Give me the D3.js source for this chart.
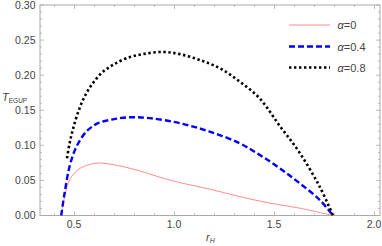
<!DOCTYPE html>
<html><head><meta charset="utf-8">
<script src="https://cdn.jsdelivr.net/npm/d3@7"></script>
<style>body{margin:0;background:#fff}svg{display:block}text{font-family:"Liberation Sans",Arial,sans-serif}</style>
</head><body>
<svg id="c" width="382" height="246"></svg>
<script>
const xMajorTicks = [0.5, 1.0, 1.5, 2.0];
const yMajorTicks = [0.00, 0.05, 0.10, 0.15, 0.20, 0.25, 0.30];
const seriesLabels = ["0", "0.4", "0.8"];
const rRed   = [0.436, 0.453, 0.478, 0.519, 0.569, 0.62, 0.695, 0.811, 0.928, 1.028, 1.178, 1.328, 1.478, 1.628, 1.795];
const tRed   = [0, 0.027, 0.0508, 0.065, 0.072, 0.0748, 0.0725, 0.065, 0.0547, 0.047, 0.0376, 0.027, 0.0177, 0.0105, 0];
const rBlue  = [0.436, 0.453, 0.478, 0.512, 0.562, 0.62, 0.695, 0.778, 0.878, 1.028, 1.178, 1.328, 1.428, 1.528, 1.628, 1.728, 1.795];
const tBlue  = [0, 0.032, 0.07, 0.098, 0.1197, 0.1316, 0.137, 0.140, 0.1387, 0.1316, 0.1196, 0.103, 0.0864, 0.0675, 0.046, 0.0224, 0];
const rBlack = [0.465, 0.478, 0.494, 0.519, 0.553, 0.594, 0.645, 0.695, 0.761, 0.844, 0.944, 1.028, 1.128, 1.228, 1.328, 1.428, 1.528, 1.628, 1.728, 1.795];
const tBlack = [0.0817, 0.103, 0.122, 0.146, 0.1695, 0.1885, 0.205, 0.2146, 0.224, 0.230, 0.2331, 0.230, 0.2217, 0.21, 0.191, 0.167, 0.128, 0.0895, 0.0413, 0];

const L = 40, R = 380, T = 5, B = 215.5;
const x = d3.scaleLinear().domain([0.33, 2.03]).range([L, R]);
const y = d3.scaleLinear().domain([0, 0.30]).range([B, T]);
const svg = d3.select("#c");
const frameCol = "#aaaaaa", labCol = "#444444";

// frame
svg.append("rect").attr("x", L).attr("y", T).attr("width", R - L).attr("height", B - T)
  .attr("fill", "none").attr("stroke", frameCol).attr("stroke-width", 1);

// ticks
const xMinor = d3.range(4, 21).map(i => i / 10).filter(v => v >= 0.33 && v <= 2.03);
const yMinor = d3.range(0, 31).map(i => i / 100);
const isMaj = (v, step) => Math.abs(v / step - Math.round(v / step)) < 1e-6;
const tk = svg.append("g").attr("stroke", frameCol).attr("stroke-width", 0.8);
xMinor.forEach(v => {
  const len = isMaj(v, 0.5) ? 4 : 2;
  const px = Math.round(x(v)) + 0.5;
  tk.append("line").attr("x1", px).attr("x2", px).attr("y1", B).attr("y2", B - len);
  tk.append("line").attr("x1", px).attr("x2", px).attr("y1", T).attr("y2", T + len);
});
yMinor.forEach(v => {
  const len = isMaj(v, 0.05) ? 4 : 2;
  const py = y(v);
  tk.append("line").attr("y1", py).attr("y2", py).attr("x1", L).attr("x2", L + len);
  tk.append("line").attr("y1", py).attr("y2", py).attr("x1", R).attr("x2", R - len);
});

// tick labels
svg.append("g").selectAll("text").data(xMajorTicks).join("text")
  .attr("x", d => x(d)).attr("y", 227.5).attr("text-anchor", "middle")
  .attr("font-size", 10.5).attr("fill", labCol).text(d => d.toFixed(1));
svg.append("g").selectAll("text").data(yMajorTicks).join("text")
  .attr("x", 35.5).attr("y", d => y(d) + 3.8).attr("text-anchor", "end")
  .attr("font-size", 10.5).attr("fill", labCol).text(d => d.toFixed(2));

// axis labels
const yl = svg.append("text").attr("x", 2).attr("y", 100.5).attr("fill", labCol).attr("font-size", 11);
yl.append("tspan").attr("font-style", "italic").text("T");
yl.append("tspan").attr("font-size", 6.5).attr("dy", 2).text("EGUP");
const xl = svg.append("text").attr("x", 206).attr("y", 240.5).attr("fill", labCol).attr("font-size", 11);
xl.append("tspan").attr("font-style", "italic").text("r");
xl.append("tspan").attr("font-size", 7).attr("dy", 2.5).attr("font-style", "italic").text("H");

// curves
const styles = [
  {col: "#ff8080", w: 0.9, dash: null},
  {col: "#0000ff", w: 2.4, dash: "6,3"},
  {col: "#000000", w: 2.6, dash: "2.4,2.6"}
];
const data = [
  d3.zip(rRed, tRed), d3.zip(rBlue, tBlue), d3.zip(rBlack, tBlack)
];
const line = d3.line().x(d => x(d[0])).y(d => y(d[1])).curve(d3.curveCatmullRom.alpha(0.5));
svg.append("clipPath").attr("id", "clp").append("rect").attr("x", L).attr("y", T).attr("width", R - L).attr("height", B - T + 1);
const cg = svg.append("g").attr("clip-path", "url(#clp)");
data.forEach((d, i) => {
  cg.append("path").attr("d", line(d)).attr("fill", "none")
    .attr("stroke", styles[i].col).attr("stroke-width", styles[i].w)
    .attr("stroke-dasharray", styles[i].dash);
});

// legend
const legY = [25, 46.5, 67.5];
seriesLabels.forEach((lab, i) => {
  svg.append("line").attr("x1", 289).attr("x2", 330).attr("y1", legY[i]).attr("y2", legY[i])
    .attr("stroke", styles[i].col).attr("stroke-width", styles[i].w)
    .attr("stroke-dasharray", styles[i].dash);
  const t = svg.append("text").attr("x", 337.5).attr("y", legY[i] + 4).attr("font-size", 11).attr("fill", labCol);
  t.append("tspan").attr("font-style", "italic").text("α");
  t.append("tspan").text("=" + lab);
});
</script>
</body></html>
